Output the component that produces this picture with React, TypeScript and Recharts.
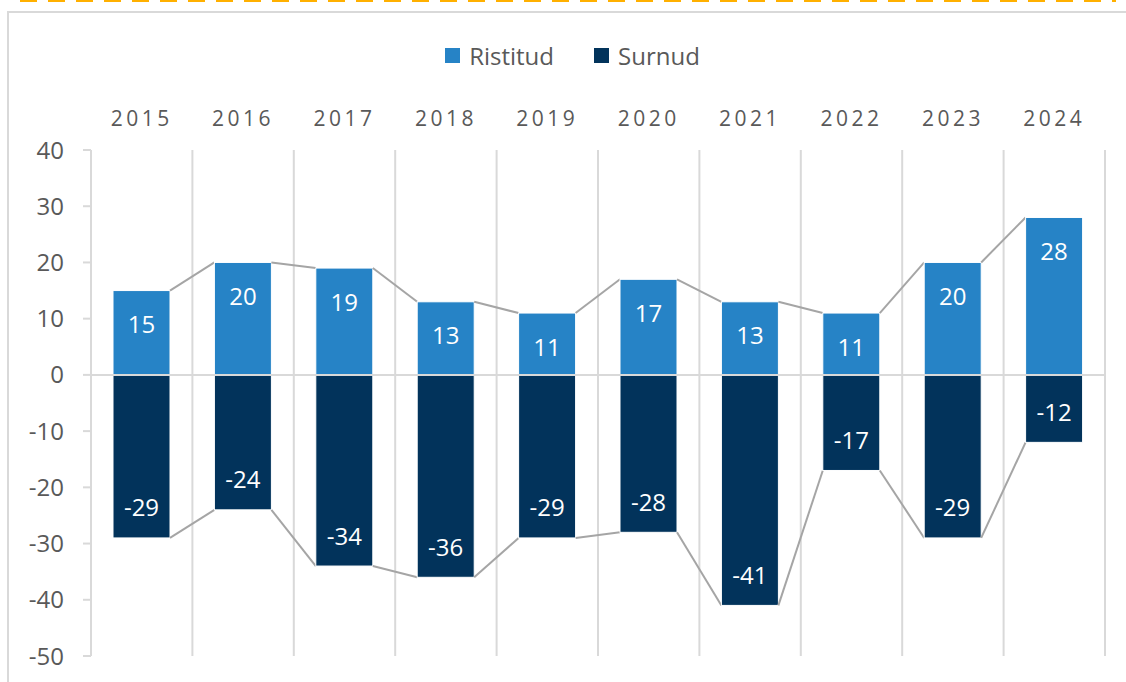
import React from 'react';
import {
  BarChart,
  Bar,
  XAxis,
  YAxis,
  CartesianGrid,
  ReferenceLine,
  Legend,
  LabelList,
} from 'recharts';

const years = ['2015', '2016', '2017', '2018', '2019', '2020', '2021', '2022', '2023', '2024'];
const births = [15, 20, 19, 13, 11, 17, 13, 11, 20, 28];
const deaths = [-29, -24, -34, -36, -29, -28, -41, -17, -29, -12];
const yTicks = [40, 30, 20, 10, 0, -10, -20, -30, -40, -50];

const seriesNames = { births: 'Ristitud', deaths: 'Surnud' };
const colors = { births: '#2683c6', deaths: '#02335b' };

const data = years.map((year, i) => ({ year, births: births[i], deaths: deaths[i] }));

const W = 1126;
const H = 682;
const MARGIN = { top: 30, right: 21, bottom: 26, left: 0 };
const Y_AXIS_W = 91;
const STEP = (W - MARGIN.left - MARGIN.right - Y_AXIS_W) / years.length;

const FONT = '"Open Sans", sans-serif';
const TEXT = '#595959';
const GRID = '#d9d9d9';

type Key = 'births' | 'deaths';

// bar plus the grey "series line" to the next bar's outer corner
const makeShape = (key: Key) => (props: any) => {
  const { x, y, width, height, index } = props;
  const top = Math.min(y, y + height);
  const bot = Math.max(y, y + height);
  const v = data[index][key];
  const ppu = (bot - top) / Math.abs(v);
  const zeroY = v >= 0 ? bot : top;
  const outerY = v >= 0 ? top : bot;
  const next = data[index + 1];
  return (
    <g>
      <rect x={x} y={top} width={width} height={bot - top} fill={colors[key]} stroke="#ffffff" strokeWidth={1} />
      {next && (
        <line
          x1={x + width}
          y1={outerY}
          x2={x + STEP}
          y2={zeroY - next[key] * ppu}
          stroke="#a5a5a5"
          strokeWidth={2}
        />
      )}
    </g>
  );
};

const renderLabel = (props: any) => {
  const { x, y, width, height, value } = props;
  const top = Math.min(y, y + height);
  const bot = Math.max(y, y + height);
  const cy = value >= 0 ? top + 33 : bot - 31;
  return (
    <text
      x={x + width / 2}
      y={cy}
      fill="#ffffff"
      fontSize={24}
      fontFamily={FONT}
      textAnchor="middle"
      dominantBaseline="central"
    >
      {value}
    </text>
  );
};

const renderLegend = () => (
  <div
    style={{
      display: 'flex',
      justifyContent: 'center',
      alignItems: 'center',
      height: 50,
      fontFamily: FONT,
      fontSize: 24,
      color: TEXT,
      paddingLeft: 40,
    }}
  >
    {(['births', 'deaths'] as Key[]).map((k) => (
      <span key={k} style={{ display: 'flex', alignItems: 'center', margin: '0 20px' }}>
        <span style={{ width: 15, height: 15, background: colors[k], marginRight: 9, display: 'inline-block' }} />
        {seriesNames[k]}
      </span>
    ))}
  </div>
);

export default function App() {
  return (
    <div style={{ position: 'fixed', left: 0, top: 0, width: W, height: H, background: '#fff', overflow: 'hidden' }}>
      <svg width={W} height={4} style={{ position: 'absolute', left: 0, top: 0 }}>
        <line x1={20} y1={1} x2={1116} y2={1} stroke="#ffb000" strokeWidth={2} strokeDasharray="17 11" />
      </svg>
      <div
        style={{
          position: 'absolute',
          left: 7,
          top: 11,
          width: W,
          height: H,
          border: `2px solid ${GRID}`,
          boxSizing: 'border-box',
        }}
      />
      <div style={{ position: 'absolute', left: 0, top: 0 }}>
        <BarChart width={W} height={H} data={data} margin={MARGIN} stackOffset="sign" barSize={57}>
          <CartesianGrid
            horizontal={false}
            stroke={GRID}
            strokeWidth={2}
            verticalCoordinatesGenerator={({ offset }: any) =>
              years.map((_, i) => offset.left + i * (offset.width / years.length)).concat(offset.left + offset.width)
            }
          />
          <Legend verticalAlign="top" height={50} content={renderLegend} />
          <XAxis
            dataKey="year"
            orientation="top"
            height={70}
            axisLine={false}
            tickLine={false}
            tickSize={0}
            tickMargin={24}
            tick={{ fill: TEXT, fontSize: 21, fontFamily: FONT, letterSpacing: 3.5 }}
          />
          <YAxis
            width={Y_AXIS_W}
            domain={[-50, 40]}
            ticks={yTicks}
            interval={0}
            axisLine={{ stroke: GRID, strokeWidth: 2 }}
            tickLine={{ stroke: GRID, strokeWidth: 2 }}
            tickSize={8}
            tickMargin={19}
            tick={{ fill: TEXT, fontSize: 24, fontFamily: FONT }}
          />
          <ReferenceLine y={0} stroke={GRID} strokeWidth={2} />
          <Bar dataKey="births" name={seriesNames.births} stackId="a" fill={colors.births} shape={makeShape('births')} isAnimationActive={false}>
            <LabelList dataKey="births" content={renderLabel} />
          </Bar>
          <Bar dataKey="deaths" name={seriesNames.deaths} stackId="a" fill={colors.deaths} shape={makeShape('deaths')} isAnimationActive={false}>
            <LabelList dataKey="deaths" content={renderLabel} />
          </Bar>
        </BarChart>
      </div>
    </div>
  );
}
